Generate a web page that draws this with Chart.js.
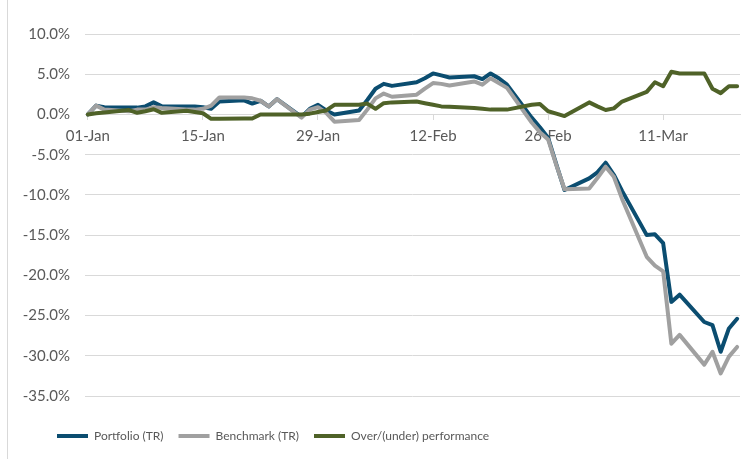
<!DOCTYPE html>
<html>
<head>
<meta charset="utf-8">
<script src="https://cdn.jsdelivr.net/npm/chart.js"></script>
<style>
  body { margin: 0; background: #fff; }
  #wrap { position: relative; width: 755px; height: 459px; }
  #edge { position: absolute; left: 7px; top: 0; width: 1px; height: 459px; background: #d9d9d9; }
</style>
</head>
<body>
<div id="wrap">
  <div id="edge"></div>
  <canvas id="chart" width="755" height="459"></canvas>
</div>
<script>
// day offsets from 01-Jan (trading days only, weekends skipped)
const tradingDays = [0, 1, 2, 5, 6, 7, 8, 9, 12, 13, 14, 15, 16, 19, 20, 21, 22, 23, 26, 27, 28, 29, 30,
    33, 34, 35, 36, 37, 40, 41, 42, 43, 44, 47, 48, 49, 50, 51, 54, 55, 56, 57, 58,
    61, 62, 63, 64, 65, 68, 69, 70, 71, 72, 75, 76, 77, 78, 79];

const portfolio = [0.0, 1.1, 0.9, 0.85, 0.85, 1.0, 1.5, 1.0, 1.0, 1.0, 0.9, 0.7, 1.6, 1.75, 1.35, 1.7, 1.0, 1.9, -0.3, 0.7, 1.2, 0.5, 0.0,
    0.5, 1.8, 3.2, 3.8, 3.55, 4.0, 4.5, 5.1, 4.85, 4.6, 4.75, 4.4, 5.1, 4.5, 3.7, -0.4, -1.6, -2.9, -6.2, -9.4,
    -7.95, -7.2, -6.0, -7.5, -9.5, -15.0, -14.9, -16.0, -23.3, -22.4, -25.8, -26.2, -29.5, -26.6, -25.4];

const benchmark = [0.0, 1.1, 0.6, 0.4, 0.6, 0.6, 0.9, 0.8, 0.6, 0.6, 0.7, 1.1, 2.1, 2.1, 2.0, 1.7, 1.0, 1.9, -0.4, 0.6, 0.9, 0.2, -0.9,
    -0.7, 0.6, 2.0, 2.6, 2.2, 2.45, 3.2, 3.9, 3.8, 3.6, 4.1, 3.7, 4.5, 3.9, 3.3, -1.0, -2.2, -3.1, -6.3, -9.3,
    -9.2, -7.9, -6.5, -7.75, -10.5, -17.7, -18.8, -19.5, -28.5, -27.4, -31.1, -29.5, -32.2, -30.1, -28.9];

const overUnder = [0.0, 0.15, 0.25, 0.55, 0.2, 0.4, 0.65, 0.2, 0.45, 0.3, 0.15, -0.55, -0.55, -0.5, -0.5, 0.0, 0.0, 0.0, 0.0, 0.1, 0.3, 0.5, 1.2,
    1.2, 1.35, 0.7, 1.4, 1.5, 1.6, 1.4, 1.2, 1.0, 0.95, 0.8, 0.7, 0.6, 0.6, 0.6, 1.2, 1.3, 0.4, 0.1, -0.2,
    1.5, 1.0, 0.55, 0.75, 1.6, 2.8, 4.0, 3.5, 5.3, 5.1, 5.1, 3.2, 2.65, 3.5, 3.5];

const tickDays = [0, 14, 28, 42, 56, 70];
const tickLabels = ["01-Jan", "15-Jan", "29-Jan", "12-Feb", "26-Feb", "11-Mar"];

const seriesNames = ["Portfolio (TR)", "Benchmark (TR)", "Over/(under) performance"];
const seriesColors = ["#0b4d70", "#a0a0a0", "#4f6228"];

Chart.defaults.font.family = "Lato";
Chart.defaults.color = "#595959";

function toPoints(values) {
    return tradingDays.map((d, i) => ({ x: d, y: values[i] }));
}

const lineStyle = { borderWidth: 4, pointRadius: 0, tension: 0, borderJoinStyle: "round", borderCapStyle: "round" };

// legend sits a bit right of the canvas edge in the original
const legendShift = {
    id: "legendShift",
    afterLayout(chart) {
        chart.legend.left += 42;
        chart.legend.right += 42;
    }
};

new Chart(document.getElementById("chart"), {
    type: "line",
    data: {
        datasets: [portfolio, benchmark, overUnder].map((vals, i) => ({
            label: seriesNames[i],
            data: toPoints(vals),
            borderColor: seriesColors[i],
            backgroundColor: seriesColors[i],
            order: 3 - i,
            ...lineStyle
        }))
    },
    options: {
        responsive: false,
        animation: false,
        layout: { padding: { left: 0, right: 15, top: 34, bottom: 7 } },
        plugins: {
            tooltip: { enabled: false },
            legend: {
                position: "bottom",
                align: "start",
                title: { display: true, text: " ", font: { size: 10, lineHeight: 1 }, padding: { top: 9, bottom: 0 } },
                labels: {
                    boxWidth: 31,
                    boxHeight: 4,
                    padding: 15,
                    color: "#595959",
                    font: { size: 12 },
                    sort: (a, b) => a.datasetIndex - b.datasetIndex,
                    generateLabels: chart => Chart.defaults.plugins.legend.labels.generateLabels(chart)
                        .map(l => ({ ...l, fillStyle: l.strokeStyle, lineWidth: 0 }))
                }
            }
        },
        scales: {
            x: {
                type: "linear",
                min: -0.35,
                max: 79.35,
                position: { y: 0 },
                afterFit: s => { s.height = 0; },
                afterBuildTicks: s => { s.ticks = tickDays.map(v => ({ value: v })); },
                grid: { drawOnChartArea: false, drawTicks: true, tickLength: 5, color: "#d9d9d9" },
                border: { color: "#d9d9d9" },
                ticks: {
                    padding: 8,
                    font: { size: 15 },
                    color: "#595959",
                    maxRotation: 0,
                    autoSkip: false,
                    callback: v => tickLabels[tickDays.indexOf(v)]
                }
            },
            y: {
                min: -35,
                max: 10,
                afterFit: s => { s.width = 85; },
                grid: { color: "#d9d9d9", drawTicks: false },
                border: { display: false },
                ticks: {
                    stepSize: 5,
                    padding: 15,
                    font: { size: 15 },
                    color: "#595959",
                    callback: v => v.toFixed(1) + "%"
                }
            }
        }
    },
    plugins: [legendShift]
});
</script>
</body>
</html>
